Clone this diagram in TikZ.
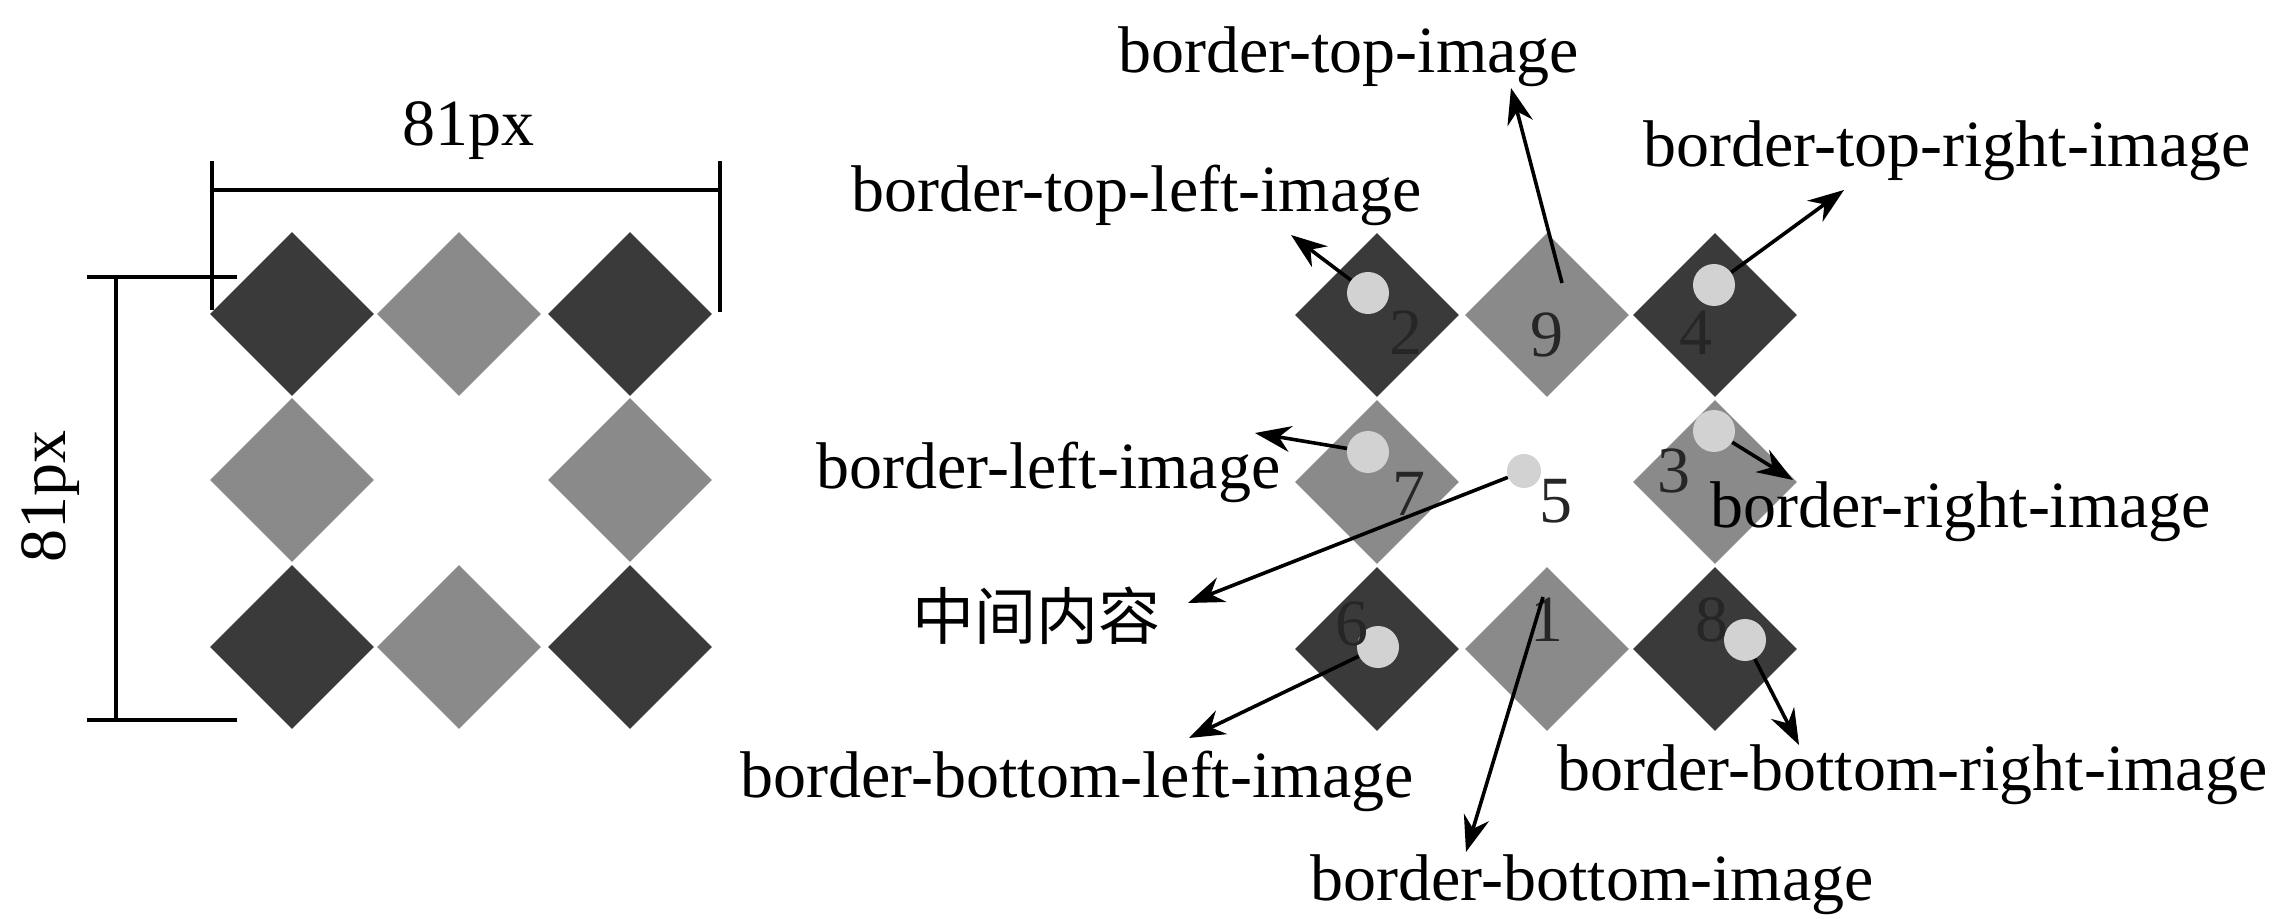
\documentclass[tikz,border=0pt]{standalone}
\usepackage{fontspec}
\setmainfont{Liberation Serif}
\newfontfamily\cjk{Noto Sans CJK SC}
\usetikzlibrary{shapes.geometric,arrows.meta}
\definecolor{dk}{HTML}{3A3A3A}
\definecolor{md}{HTML}{8A8A8A}
\definecolor{lt}{HTML}{D2D2D2}
\tikzset{
  dia/.style={shape=diamond,aspect=1,inner sep=0pt,minimum width=82pt,minimum height=82pt,draw=none},
  dkd/.style={dia,fill=dk},
  mdd/.style={dia,fill=md},
  dot/.style={shape=circle,fill=lt,draw=none,inner sep=0pt,minimum size=21pt},
  sdot/.style={shape=circle,fill=lt,draw=none,inner sep=0pt,minimum size=17pt},
  lbl/.style={inner sep=0pt,font=\fontsize{33}{36}\selectfont},
  num/.style={inner sep=0pt,font=\fontsize{33}{36}\selectfont,text=black!85},
  dim/.style={line width=1.9pt,black},
  arr/.style={line width=1.8pt,-{Stealth[length=18pt,width=13pt]}}
}
\begin{document}
\begin{tikzpicture}[x=0.5pt,y=-0.5pt]
\useasboundingbox[fill=white] (0,0) rectangle (2281,919);
% left panel
\node[dkd] (a11) at (292,314) {};
\node[mdd] (a12) at (459,314) {};
\node[dkd] (a13) at (630,314) {};
\node[mdd] (a21) at (292,480) {};
\node[mdd] (a23) at (630,480) {};
\node[dkd] (a31) at (292,647) {};
\node[mdd] (a32) at (459,647) {};
\node[dkd] (a33) at (630,647) {};
% dimensions
\coordinate (h1) at (212,190); \coordinate (h2) at (720,190);
\coordinate (h1t) at (212,161); \coordinate (h1b) at (212,310);
\coordinate (h2t) at (720,161); \coordinate (h2b) at (720,312);
\draw[dim] (h1) -- (h2);
\draw[dim] (h1t) -- (h1b);
\draw[dim] (h2t) -- (h2b);
\coordinate (v1) at (116,277); \coordinate (v2) at (116,720);
\coordinate (v1l) at (87,277); \coordinate (v1r) at (237,277);
\coordinate (v2l) at (87,720); \coordinate (v2r) at (237,720);
\draw[dim] (v1) -- (v2);
\draw[dim] (v1l) -- (v1r);
\draw[dim] (v2l) -- (v2r);
\node[lbl] (wlab) at (468,131) {81px};
\node[lbl,rotate=90] (hlab) at (51,496) {81px};
% right panel
\node[dkd] (d2) at (1377,315) {};
\node[mdd] (d9) at (1547,315) {};
\node[dkd] (d4) at (1715,315) {};
\node[mdd] (d7) at (1377,482) {};
\node[mdd] (d3) at (1715,482) {};
\node[dkd] (d6) at (1377,649) {};
\node[mdd] (d1) at (1547,649) {};
\node[dkd] (d8) at (1715,649) {};
\node[dot] (c2) at (1368,293) {};
\node[dot] (c4) at (1714,285) {};
\node[dot] (c7) at (1368,452) {};
\node[sdot] (c5) at (1524,471) {};
\node[dot] (c3) at (1714,431) {};
\node[dot] (c6) at (1378,647) {};
\node[dot] (c8) at (1745,640) {};
\node[num] (n2) at (1406,333) {2};
\node[num] (n9) at (1547,335) {9};
\node[num] (n4) at (1696,333) {4};
\node[num] (n7) at (1409,494) {7};
\node[num] (n5) at (1556,501) {5};
\node[num] (n3) at (1674,471) {3};
\node[num] (n6) at (1352,624) {6};
\node[num] (n1) at (1547,620) {1};
\node[num] (n8) at (1712,620) {8};
% labels
\node[lbl,anchor=base west] (ltop) at (1118,73) {border-top-image};
\node[lbl,anchor=base west] (ltr) at (1643,167) {border-top-right-image};
\node[lbl,anchor=base west] (ltl) at (851,212) {border-top-left-image};
\node[lbl,anchor=base west] (ll) at (816,488) {border-left-image};
\node[lbl,anchor=base west] (lr) at (1710,527) {border-right-image};
\node[inner sep=0pt,anchor=west,font=\cjk\fontsize{31}{34}\selectfont] (lm) at (912,616) {中间内容};
\node[lbl,anchor=base west] (lbl2) at (740,797) {border-bottom-left-image};
\node[lbl,anchor=base west] (lbr) at (1557,790) {border-bottom-right-image};
\node[lbl,anchor=base west] (lb) at (1310,900) {border-bottom-image};
% arrow ends
\coordinate (s9) at (1562,283);
\coordinate (s1) at (1543,597);
\coordinate (ttl) at (1291,235);
\coordinate (tt) at (1511,88);
\coordinate (ttr) at (1844,190);
\coordinate (tl) at (1255,433);
\coordinate (tr) at (1793,480);
\coordinate (tm) at (1188,603);
\coordinate (tbl) at (1189,738);
\coordinate (tb) at (1466,852);
\coordinate (tbr) at (1799,745);
\draw[arr] (c2) -- (ttl);
\draw[arr] (s9) -- (tt);
\draw[arr] (c4) -- (ttr);
\draw[arr] (c7) -- (tl);
\draw[arr] (c3) -- (tr);
\draw[arr] (c5) -- (tm);
\draw[arr] (c6) -- (tbl);
\draw[arr] (s1) -- (tb);
\draw[arr] (c8) -- (tbr);
\end{tikzpicture}
\end{document}
